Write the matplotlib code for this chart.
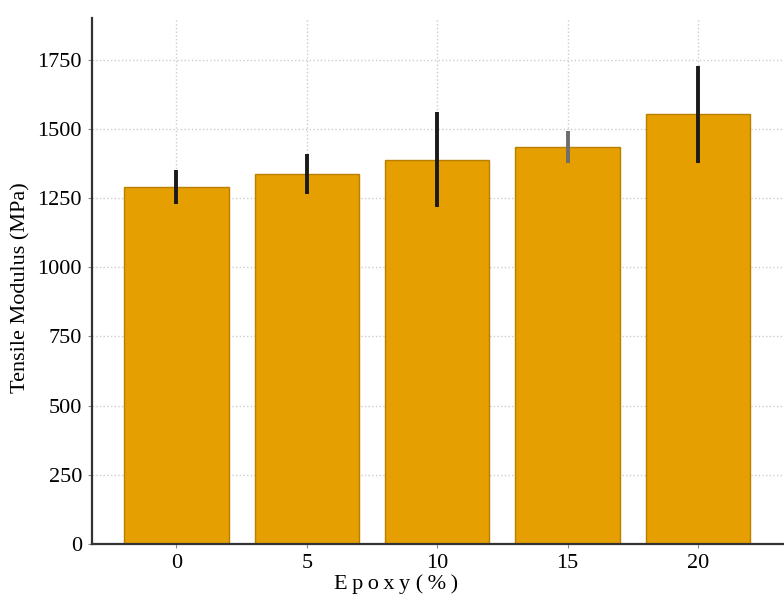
import matplotlib
matplotlib.use("Agg")
import matplotlib.pyplot as plt

# Tensile modulus vs. epoxy content
epoxy = [0, 5, 10, 15, 20]
modulus = [1290, 1338, 1388, 1435, 1552]
modulus_err = [60, 72, 172, 58, 174]
yticks = [0, 250, 500, 750, 1000, 1250, 1500, 1750]
err_colors = ['#1a1a1a', '#1a1a1a', '#1a1a1a', '#6e6e6e', '#1a1a1a']

plt.rcParams['font.family'] = ['Liberation Serif', 'DejaVu Serif']

fig = plt.figure(figsize=(7.84, 6.0), dpi=100)
ax = fig.add_axes([0.117, 0.093, 0.883, 0.877])

ax.bar(epoxy, modulus, width=4, color='#E69F00', edgecolor='#B98000', linewidth=1.0,
       yerr=modulus_err, error_kw=dict(ecolor=err_colors, elinewidth=2.8, capsize=0),
       zorder=2)

ax.set_xlim(-3.25, 23.3)
ax.set_ylim(0, 1900)
ax.set_xticks(epoxy)
ax.set_yticks(yticks)
ax.grid(True, color='#cccccc', linestyle=':', linewidth=1.0, zorder=0)
ax.set_axisbelow(True)

for s in ['top', 'right']:
    ax.spines[s].set_visible(False)
for s in ['left', 'bottom']:
    ax.spines[s].set_linewidth(1.6)
    ax.spines[s].set_color('#333333')

ax.tick_params(axis='both', labelsize=16, length=3, width=0.8, color='#888888', pad=4)
ax.set_xlabel('E\u2009p\u2009o\u2009x\u2009y (\u2009%\u2009)', fontsize=16)
ax.xaxis.set_label_coords(0.440, -0.057)
ax.set_ylabel('Tensile Modulus (MPa)', fontsize=16)
ax.yaxis.set_label_coords(-0.089, 0.487)

fig.savefig('out.png', dpi=100)
